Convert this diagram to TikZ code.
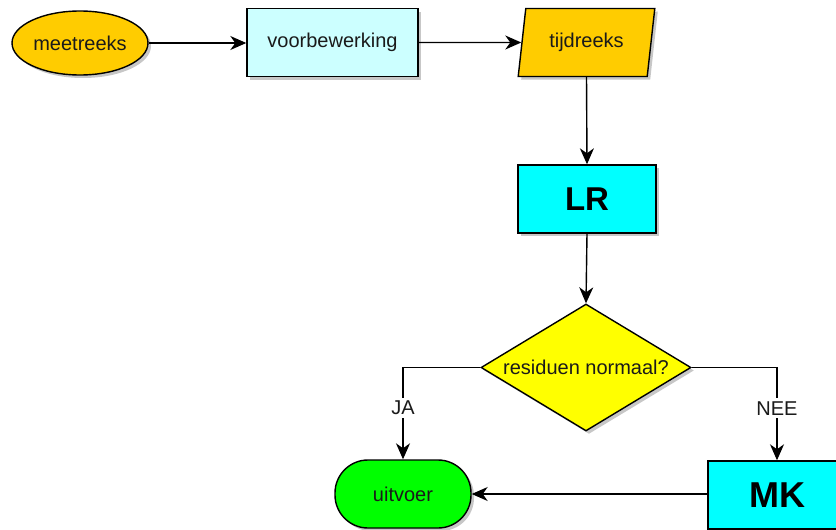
\documentclass[tikz,border=0pt]{standalone}
\usepackage{fontspec}
\setmainfont{Liberation Sans}
\usetikzlibrary{shapes.geometric,arrows.meta,shadows}
\definecolor{orangeY}{HTML}{FFCC00}
\definecolor{lightcyan}{HTML}{CCFFFF}
\definecolor{cyanB}{HTML}{00FFFF}
\definecolor{yellowD}{HTML}{FFFF00}
\definecolor{greenT}{HTML}{00FF00}
\definecolor{txt}{HTML}{1A1A1A}
\tikzset{
  base/.style={draw=black, line width=1.4pt, inner sep=0pt, text=txt,
    font=\fontsize{20}{24}\selectfont,
    drop shadow={shadow xshift=3pt, shadow yshift=-3pt, opacity=0.22, fill=black}},
  ovalbox/.style={base, ellipse, fill=orangeY, minimum width=136pt, minimum height=64pt},
  procbox/.style={base, rectangle, fill=lightcyan, minimum width=171pt, minimum height=68pt},
  databox/.style={base, trapezium, trapezium left angle=76, trapezium right angle=104,
    trapezium stretches=true, fill=orangeY, minimum width=137pt, minimum height=68pt},
  bigbox/.style={base, rectangle, fill=cyanB, minimum width=138pt, minimum height=68pt},
  decbox/.style={base, diamond, fill=yellowD, aspect=1.65, minimum width=210pt, minimum height=127pt},
  termbox/.style={base, rectangle, rounded corners=33pt, fill=greenT, minimum width=136pt, minimum height=68pt},
  arr/.style={line width=1.4pt, -{Stealth[length=16pt, width=14pt, inset=5pt]}},
  lbl/.style={fill=white, text=txt, inner sep=3pt, font=\fontsize{20}{24}\selectfont}
}
\begin{document}
\begin{tikzpicture}[x=1pt, y=-1pt]
\useasboundingbox[fill=white] (0,0) rectangle (836,530);
\node[ovalbox] (meet) at (80,43) {meetreeks};
\node[procbox] (voor) at (332.5,42.5) {voorbewerking};
\node[databox] (tijd) at (586.5,42.5) {tijdreeks};
\node[bigbox, font=\fontsize{33}{38}\selectfont\bfseries, text=black] (LR) at (587,199) {LR};
\node[decbox] (dia) at (586,367.5) {residuen normaal?};
\node[termbox] (uit) at (403,494) {uitvoer};
\node[bigbox, font=\fontsize{36}{40}\selectfont\bfseries, text=black] (MK) at (777,495) {MK};

\draw[arr] (meet.east) -- (meet.east -| voor.west);
\draw[arr] (voor) -- (tijd);
\draw[arr] (tijd.south) -- (LR.north);
\draw[arr] (LR.south) -- (dia.north);
\draw[arr] (dia.west) -| node[lbl, pos=0.72] {JA} (uit.north);
\draw[arr] (dia.east) -| node[lbl, pos=0.72] {NEE} (MK.north);
\draw[arr] (MK.west |- uit.east) -- (uit.east);
\end{tikzpicture}
\end{document}
